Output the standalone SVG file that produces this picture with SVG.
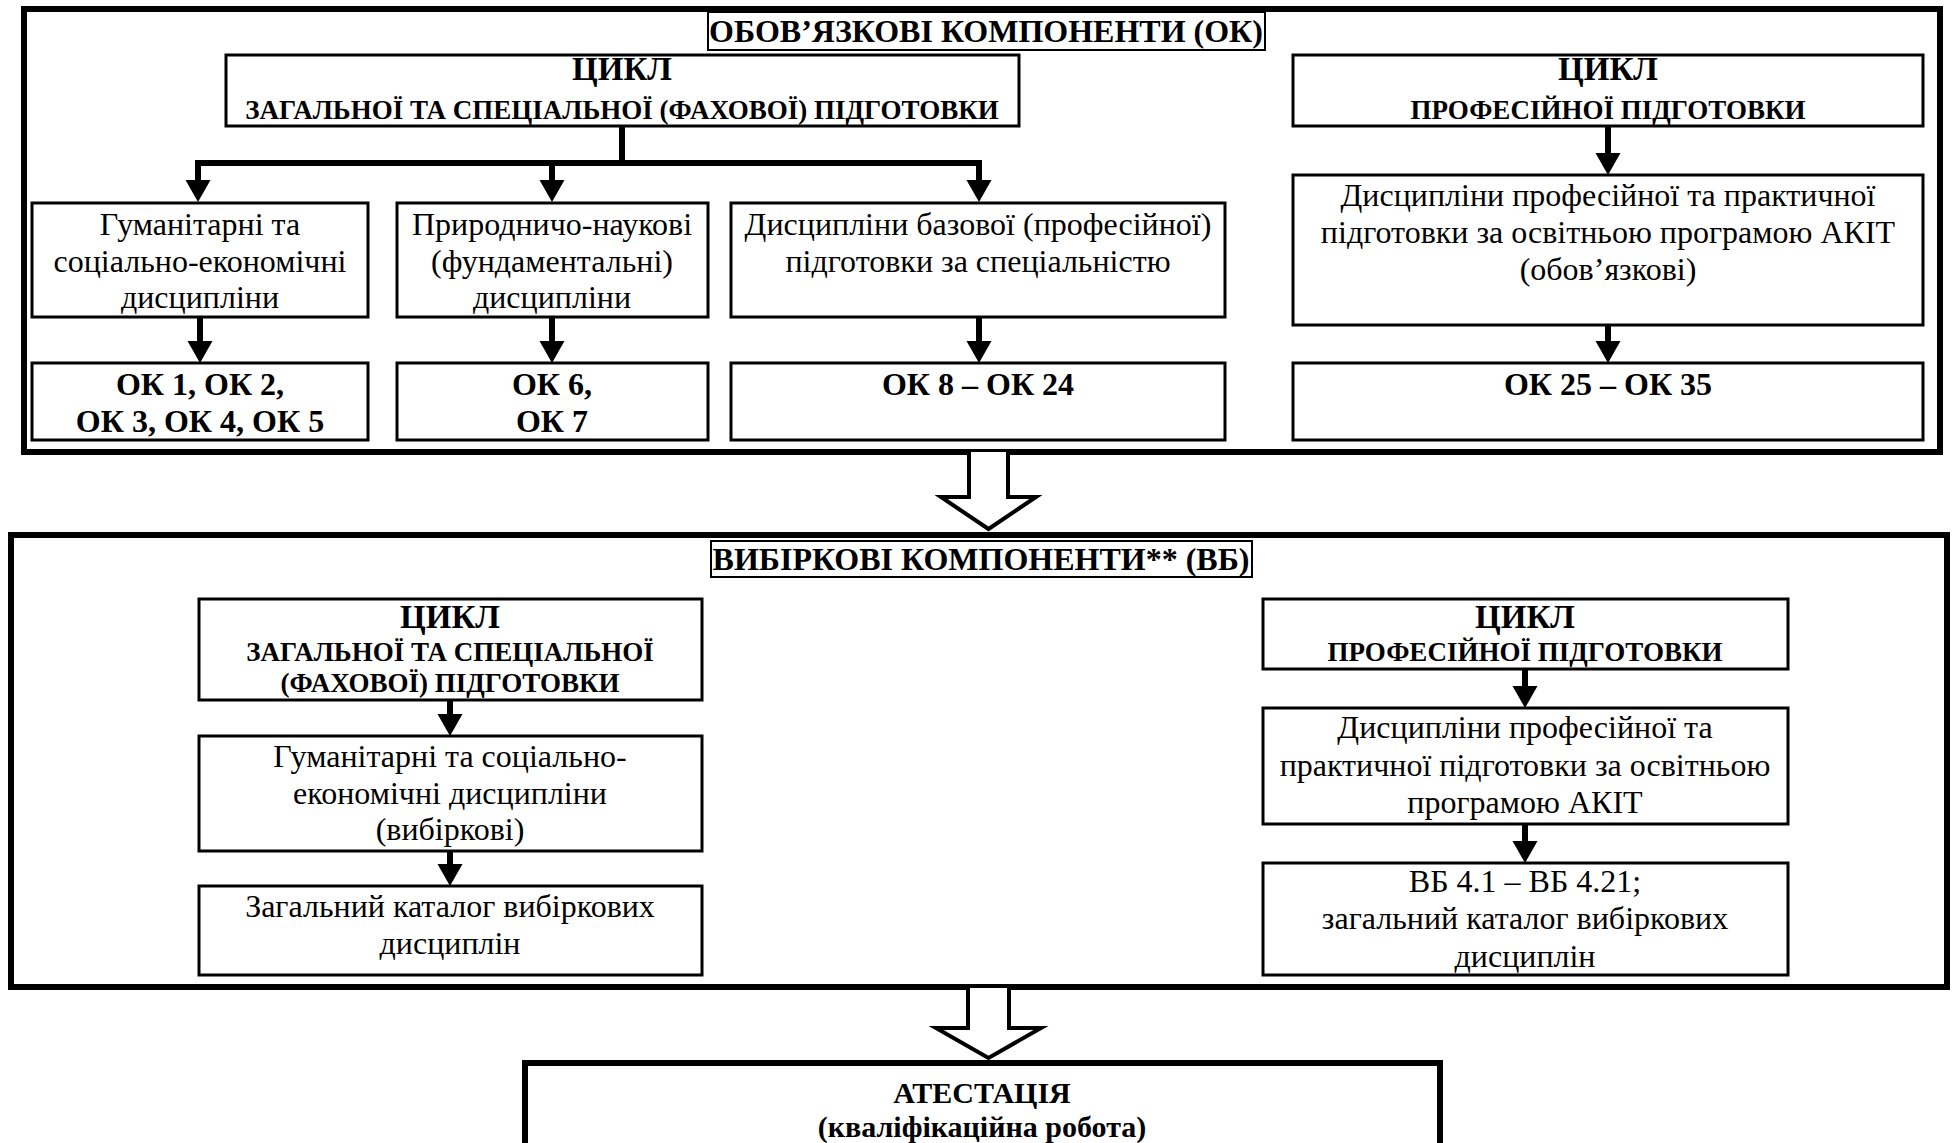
<svg xmlns="http://www.w3.org/2000/svg" width="1955" height="1143" viewBox="0 0 1955 1143">
<style>
text{font-family:"Liberation Serif","Times New Roman",serif;fill:#000;text-anchor:middle}
.h{font-size:32px;font-weight:bold}
.c{font-size:33px;font-weight:bold}
.s{font-size:27px;font-weight:bold}
.r{font-size:32px}
.b{font-size:32px;font-weight:bold}
.a{font-size:30px;font-weight:bold}
.box{fill:#fff;stroke:#000;stroke-width:3}
.lbl{fill:#fff;stroke:#000;stroke-width:2}
.outer{fill:#fff;stroke:#000;stroke-width:6}
.ln{fill:none;stroke:#000;stroke-width:6}
.arr{fill:none;stroke:#000;stroke-width:6;marker-end:url(#ah)}
.hollow{fill:#fff;stroke:#000;stroke-width:4;stroke-linejoin:miter}
</style>
<defs>
<marker id="ah" markerUnits="userSpaceOnUse" markerWidth="24" markerHeight="28" viewBox="0 -14 24 28" refX="0" refY="0" orient="auto">
<path d="M0,-12.5 L22,0 L0,12.5 Z" fill="#000"/>
</marker>
</defs>
<rect width="1955" height="1143" fill="#fff"/>

<g id="ok-section">
<rect class="outer" x="24" y="9" width="1916" height="443"/>
</g>
<g id="vb-section">
<rect class="outer" x="11" y="535" width="1936" height="452"/>
</g>

<g id="connectors">
<path class="ln" d="M622,126 V163 M195,163 H982"/>
<line class="arr" x1="198" y1="160" x2="198" y2="180"/>
<line class="arr" x1="552" y1="160" x2="552" y2="180"/>
<line class="arr" x1="979" y1="160" x2="979" y2="180"/>
<line class="arr" x1="200" y1="317" x2="200" y2="341"/>
<line class="arr" x1="552" y1="317" x2="552" y2="341"/>
<line class="arr" x1="979" y1="317" x2="979" y2="341"/>
<line class="arr" x1="1608" y1="126" x2="1608" y2="153"/>
<line class="arr" x1="1608" y1="325" x2="1608" y2="341"/>
<line class="arr" x1="450" y1="700" x2="450" y2="714"/>
<line class="arr" x1="450" y1="851" x2="450" y2="864"/>
<line class="arr" x1="1525" y1="669" x2="1525" y2="686"/>
<line class="arr" x1="1525" y1="824" x2="1525" y2="841"/>
<path class="hollow" d="M969,452 V497 H941 L988.5,529 L1036,497 H1008 V452"/>
<path class="hollow" d="M968,988 V1028 H936 L988.5,1058 L1041,1028 H1009 V988"/>
</g>

<g id="ok-title">
<rect class="lbl" x="708" y="12" width="557" height="38"/>
<text class="h" x="986" y="42">ОБОВ’ЯЗКОВІ КОМПОНЕНТИ (ОК)</text>
</g>
<g id="ok-cycle-general">
<rect class="box" x="226" y="55" width="793" height="71"/>
<text class="c" x="622" y="80">ЦИКЛ</text>
<text class="s" x="622" y="119">ЗАГАЛЬНОЇ ТА СПЕЦІАЛЬНОЇ (ФАХОВОЇ) ПІДГОТОВКИ</text>
</g>
<g id="ok-cycle-prof">
<rect class="box" x="1293" y="55" width="630" height="71"/>
<text class="c" x="1608" y="80">ЦИКЛ</text>
<text class="s" x="1608" y="119">ПРОФЕСІЙНОЇ ПІДГОТОВКИ</text>
</g>
<g id="ok-hum">
<rect class="box" x="32" y="203" width="336" height="114"/>
<text class="r" x="200" y="235">Гуманітарні та</text>
<text class="r" x="200" y="272">соціально-економічні</text>
<text class="r" x="200" y="308">дисципліни</text>
</g>
<g id="ok-nat">
<rect class="box" x="397" y="203" width="311" height="114"/>
<text class="r" x="552" y="235">Природничо-наукові</text>
<text class="r" x="552" y="272">(фундаментальні)</text>
<text class="r" x="552" y="308">дисципліни</text>
</g>
<g id="ok-base">
<rect class="box" x="731" y="203" width="494" height="114"/>
<text class="r" x="978" y="235">Дисципліни базової (професійної)</text>
<text class="r" x="978" y="272">підготовки за спеціальністю</text>
</g>
<g id="ok-prof">
<rect class="box" x="1293" y="175" width="630" height="150"/>
<text class="r" x="1608" y="206">Дисципліни професійної та практичної</text>
<text class="r" x="1608" y="243">підготовки за освітньою програмою АКІТ</text>
<text class="r" x="1608" y="280">(обов’язкові)</text>
</g>
<g id="ok-1-5">
<rect class="box" x="32" y="363" width="336" height="77"/>
<text class="b" x="200" y="395">ОК 1, ОК 2,</text>
<text class="b" x="200" y="432">ОК 3, ОК 4, ОК 5</text>
</g>
<g id="ok-6-7">
<rect class="box" x="397" y="363" width="311" height="77"/>
<text class="b" x="552" y="395">ОК 6,</text>
<text class="b" x="552" y="432">ОК 7</text>
</g>
<g id="ok-8-24">
<rect class="box" x="731" y="363" width="494" height="77"/>
<text class="b" x="978" y="395">ОК 8 – ОК 24</text>
</g>
<g id="ok-25-35">
<rect class="box" x="1293" y="363" width="630" height="77"/>
<text class="b" x="1608" y="395">ОК 25 – ОК 35</text>
</g>

<g id="vb-title">
<rect class="lbl" x="711" y="541" width="541" height="36"/>
<text class="h" x="981" y="570">ВИБІРКОВІ КОМПОНЕНТИ** (ВБ)</text>
</g>
<g id="vb-cycle-general">
<rect class="box" x="199" y="599" width="503" height="101"/>
<text class="c" x="450" y="628">ЦИКЛ</text>
<text class="s" x="450" y="661">ЗАГАЛЬНОЇ ТА СПЕЦІАЛЬНОЇ</text>
<text class="s" x="450" y="692">(ФАХОВОЇ) ПІДГОТОВКИ</text>
</g>
<g id="vb-hum">
<rect class="box" x="199" y="736" width="503" height="115"/>
<text class="r" x="450" y="767">Гуманітарні та соціально-</text>
<text class="r" x="450" y="804">економічні дисципліни</text>
<text class="r" x="450" y="840">(вибіркові)</text>
</g>
<g id="vb-catalog">
<rect class="box" x="199" y="886" width="503" height="89"/>
<text class="r" x="450" y="917">Загальний каталог вибіркових</text>
<text class="r" x="450" y="954">дисциплін</text>
</g>
<g id="vb-cycle-prof">
<rect class="box" x="1263" y="599" width="525" height="70"/>
<text class="c" x="1525" y="628">ЦИКЛ</text>
<text class="s" x="1525" y="661">ПРОФЕСІЙНОЇ ПІДГОТОВКИ</text>
</g>
<g id="vb-prof">
<rect class="box" x="1263" y="708" width="525" height="116"/>
<text class="r" x="1525" y="738">Дисципліни професійної та</text>
<text class="r" x="1525" y="776">практичної підготовки за освітньою</text>
<text class="r" x="1525" y="813">програмою АКІТ</text>
</g>
<g id="vb-4">
<rect class="box" x="1263" y="863" width="525" height="112"/>
<text class="r" x="1525" y="892">ВБ 4.1 – ВБ 4.21;</text>
<text class="r" x="1525" y="929">загальний каталог вибіркових</text>
<text class="r" x="1525" y="967">дисциплін</text>
</g>

<g id="attestation">
<rect class="outer" x="525" y="1063" width="915" height="100"/>
<text class="a" x="982" y="1103">АТЕСТАЦІЯ</text>
<text class="a" x="982" y="1137">(кваліфікаційна робота)</text>
</g>
</svg>
